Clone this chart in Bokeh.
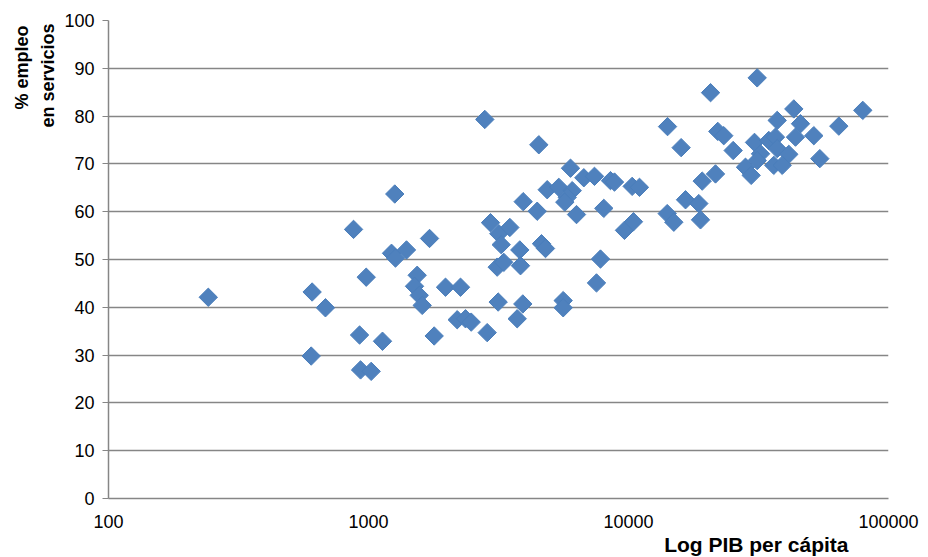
import math
from bokeh.plotting import figure
from bokeh.models import Range1d, FixedTicker, Title, ColumnDataSource
from bokeh.embed import file_html
from bokeh.resources import INLINE

# PIB per cápita (log scale) and % empleo en servicios
gdp = [242, 607, 602, 683, 876, 924, 932, 980, 1024, 1132,
       1226, 1262, 1270, 1400, 1539, 1503, 1567, 1609, 1717, 1789,
       1978, 2259, 2194, 2361, 2483, 2861, 2801, 2946, 3171, 3496,
       3239, 3819, 4628, 4795, 3126, 3314, 3843, 7803, 7532, 3153,
       3922, 3732, 5608, 5608, 4519, 5983, 6732, 7399, 8525, 8833,
       10330, 11020, 4868, 5394, 6075, 5811, 5689, 3936, 4455, 6310,
       8035, 9650, 10450, 14130, 14090, 14940, 16570, 18640, 18920, 15940,
       19210, 21610, 20680, 22050, 23250, 25270, 31260, 30520, 34640, 36760,
       37320, 43230, 45870, 43880, 51610, 64410, 79630, 54430, 32190, 37320,
       41360, 28180, 31260, 36210, 39010, 29640]
services = [42.1, 43.2, 29.8, 39.9, 56.3, 34.2, 26.9, 46.3, 26.6, 32.9,
            51.3, 63.7, 50.3, 52.0, 46.7, 44.4, 42.5, 40.4, 54.4, 34.0,
            44.2, 44.2, 37.4, 37.6, 36.9, 34.7, 79.3, 57.7, 55.4, 56.7,
            53.1, 52.0, 53.3, 52.3, 48.4, 49.4, 48.7, 50.1, 45.1, 41.1,
            40.7, 37.6, 41.4, 39.9, 74.0, 69.1, 67.1, 67.4, 66.5, 66.2,
            65.3, 65.1, 64.6, 65.1, 64.4, 63.0, 62.0, 62.1, 60.1, 59.4,
            60.7, 56.1, 57.9, 77.8, 59.6, 57.8, 62.5, 61.7, 58.3, 73.4,
            66.4, 67.9, 84.9, 76.8, 75.9, 72.8, 88.0, 74.5, 74.9, 75.6,
            79.1, 81.5, 78.4, 75.6, 75.9, 77.9, 81.2, 71.1, 72.1, 73.2,
            72.0, 69.3, 70.7, 69.7, 69.7, 67.6]

x_ticks = [100, 1000, 10000, 100000]
x_tick_labels = ["100", "1000", "10000", "100000"]
y_ticks = [0, 10, 20, 30, 40, 50, 60, 70, 80, 90, 100]

x_title = "Log PIB per cápita"
y_title_1 = "% empleo"
y_title_2 = "en servicios"

GRID = "#868686"
FONT = "Liberation Sans"

p = figure(width=928, height=557, x_axis_type="log",
           x_range=Range1d(100, 100000), y_range=Range1d(0, 100),
           output_backend="svg", toolbar_location=None,
           min_border_left=108, min_border_right=40,
           min_border_top=20, min_border_bottom=59)
p.outline_line_color = None
p.background_fill_color = "white"
p.border_fill_color = "white"

src = ColumnDataSource(dict(x=gdp, y=services))
p.scatter("x", "y", source=src, marker="square", size=13, angle=math.pi / 4,
          fill_color="#4F81BD", line_color="#4A7EBB", line_width=1)

# axes
p.xaxis.ticker = FixedTicker(ticks=x_ticks)
p.xaxis.major_label_overrides = {t: l for t, l in zip(x_ticks, x_tick_labels)}
p.yaxis.ticker = FixedTicker(ticks=y_ticks)
for ax in (p.xaxis, p.yaxis):
    ax.axis_line_color = GRID
    ax.axis_line_width = 1.5
    ax.major_tick_line_color = GRID
    ax.minor_tick_line_color = None
    ax.major_tick_in = 0
    ax.major_label_text_font = FONT
    ax.major_label_text_font_size = "18px"
    ax.major_label_text_color = "#000000"
p.xaxis.major_tick_out = 0
p.xaxis.major_label_standoff = 16
p.yaxis.major_tick_out = 6
p.yaxis.major_label_standoff = 8

p.xgrid.grid_line_color = None
p.ygrid.grid_line_color = GRID
p.ygrid.grid_line_width = 1.5

# axis titles (side panels so they are not clipped)
p.add_layout(Title(text=x_title, align="right", offset=40, standoff=0,
                   text_font=FONT, text_font_size="21px", text_font_style="bold",
                   text_color="#000000"), "below")
p.add_layout(Title(text=y_title_2, align="right", offset=3, standoff=8,
                   text_font=FONT, text_font_size="18px", text_font_style="bold",
                   text_color="#000000"), "left")
p.add_layout(Title(text=y_title_1, align="right", offset=5, standoff=0,
                   text_font=FONT, text_font_size="18px", text_font_style="bold",
                   text_color="#000000"), "left")

open("out.html", "w").write(file_html(p, INLINE))
